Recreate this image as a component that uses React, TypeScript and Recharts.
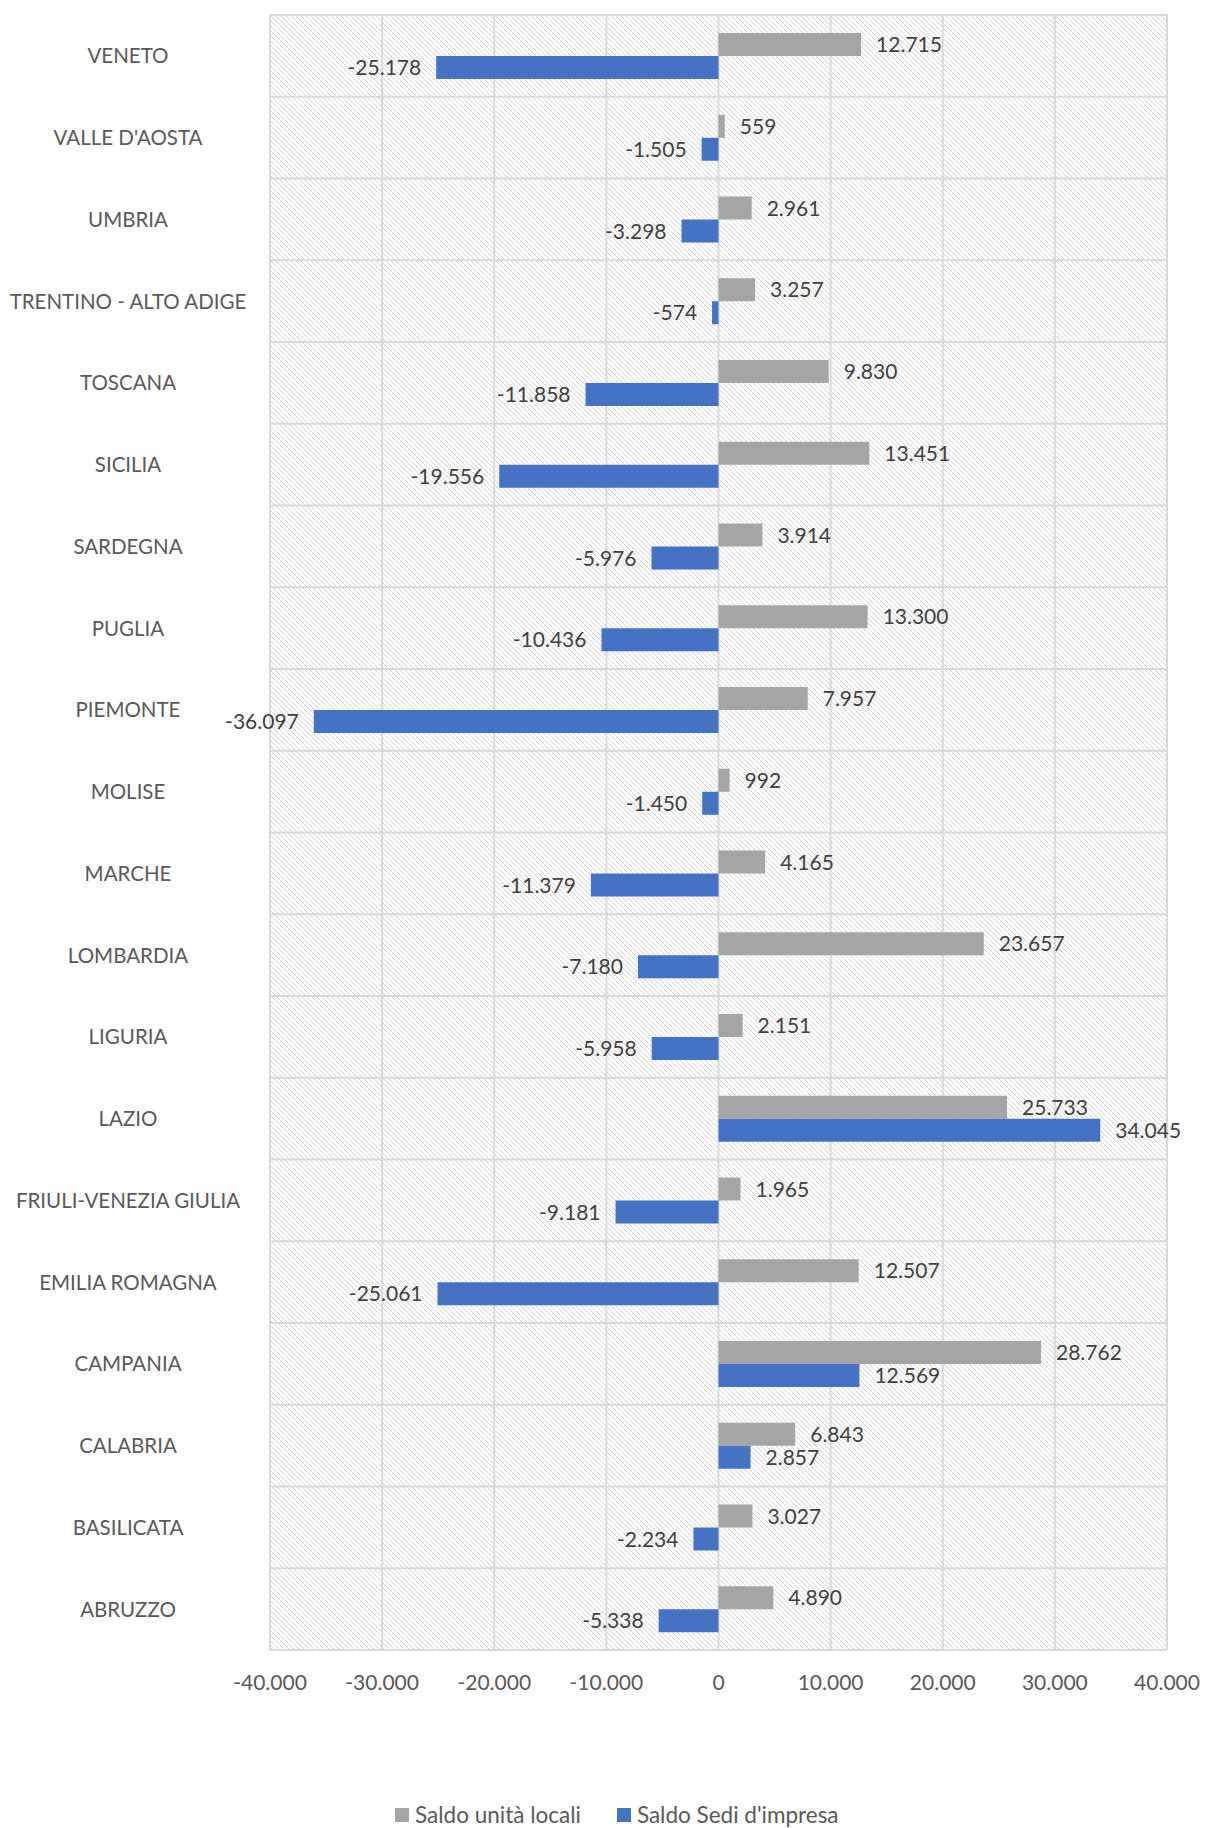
import { BarChart, Bar, XAxis, YAxis, CartesianGrid, Legend, LabelList } from 'recharts'

const regions = [
  'VENETO',
  "VALLE D'AOSTA",
  'UMBRIA',
  'TRENTINO - ALTO ADIGE',
  'TOSCANA',
  'SICILIA',
  'SARDEGNA',
  'PUGLIA',
  'PIEMONTE',
  'MOLISE',
  'MARCHE',
  'LOMBARDIA',
  'LIGURIA',
  'LAZIO',
  'FRIULI-VENEZIA GIULIA',
  'EMILIA ROMAGNA',
  'CAMPANIA',
  'CALABRIA',
  'BASILICATA',
  'ABRUZZO',
]

const unitaLocali = [
  12715, 559, 2961, 3257, 9830, 13451, 3914, 13300, 7957, 992, 4165, 23657, 2151, 25733, 1965, 12507,
  28762, 6843, 3027, 4890,
]

const sediImpresa = [
  -25178, -1505, -3298, -574, -11858, -19556, -5976, -10436, -36097, -1450, -11379, -7180, -5958, 34045,
  -9181, -25061, 12569, 2857, -2234, -5338,
]

const xTicks = [-40000, -30000, -20000, -10000, 0, 10000, 20000, 30000, 40000]

const seriesNames = ['Saldo unità locali', "Saldo Sedi d'impresa"]
const GRAY = '#a5a5a5'
const BLUE = '#4472c4'
const FONT = 'Lato, "Noto Sans", sans-serif'

const data = regions.map((region, i) => ({
  region,
  unita: unitaLocali[i],
  sedi: sediImpresa[i],
}))

// 12715 -> "12.715", -574 -> "-574"
function fmt(v: number) {
  const s = Math.abs(v)
    .toString()
    .replace(/\B(?=(\d{3})+(?!\d))/g, '.')
  return (v < 0 ? '-' : '') + s
}

function CategoryTick({ y, payload }: any) {
  return (
    <text x={128} y={y + 7.5} textAnchor="middle" fill="#595959" fontSize={20.5} fontFamily={FONT}>
      {payload.value}
    </text>
  )
}

function ValueTick({ x, y, payload }: any) {
  return (
    <text x={x} y={y + 40} textAnchor="middle" fill="#595959" fontSize={21} fontFamily={FONT}>
      {fmt(payload.value)}
    </text>
  )
}

function BarLabel({ x, y, width, height, value }: any) {
  const left = Math.min(x, x + width)
  const right = Math.max(x, x + width)
  const neg = value < 0
  return (
    <text
      x={neg ? left - 15 : right + 15}
      y={y + height / 2 + 7.5}
      textAnchor={neg ? 'end' : 'start'}
      fill="#404040"
      fontSize={21}
      fontFamily={FONT}
    >
      {fmt(value)}
    </text>
  )
}

function LegendContent() {
  const items = [
    { name: seriesNames[0], color: GRAY },
    { name: seriesNames[1], color: BLUE },
  ]
  return (
    <div style={{ display: 'flex', alignItems: 'center', fontFamily: FONT, fontSize: 22.5, color: '#595959' }}>
      {items.map((it) => (
        <div key={it.name} style={{ display: 'flex', alignItems: 'center', marginRight: 36 }}>
          <span style={{ width: 14, height: 14, background: it.color, marginRight: 6, display: 'inline-block' }} />
          <span>{it.name}</span>
        </div>
      ))}
    </div>
  )
}

export default function App() {
  const rows = regions.length
  return (
    <div style={{ position: 'absolute', left: 0, top: 0, width: 1205, height: 1828, background: '#fff' }}>
      <svg width={0} height={0} style={{ position: 'absolute' }}>
        <defs>
          <pattern id="hatch" patternUnits="userSpaceOnUse" width={5} height={5}>
            <rect width={5} height={5} fill="#ffffff" />
            <path d="M0,0 L5,5 M-1,4 L1,6 M4,-1 L6,1" stroke="#d6d6d6" strokeWidth={1} />
          </pattern>
        </defs>
      </svg>
      <BarChart
        width={1205}
        height={1828}
        data={data}
        layout="vertical"
        margin={{ top: 15, right: 38, left: 0, bottom: 138 }}
        barSize={23}
        barGap={0}
      >
        <CartesianGrid
          stroke="#d9d9d9"
          strokeWidth={2}
          fill="url(#hatch)"
          fillOpacity={1}
          horizontalCoordinatesGenerator={({ offset }: any) =>
            Array.from({ length: rows + 1 }, (_, i) => offset.top + (i * offset.height) / rows)
          }
        />
        <XAxis
          type="number"
          domain={[-40000, 40000]}
          ticks={xTicks}
          interval={0}
          axisLine={false}
          tickLine={false}
          tickSize={0}
          tickMargin={0}
          height={40}
          tick={<ValueTick />}
        />
        <YAxis
          type="category"
          dataKey="region"
          width={270}
          interval={0}
          axisLine={false}
          tickLine={false}
          tick={<CategoryTick />}
        />
        <Legend
          verticalAlign="middle"
          align="center"
          content={<LegendContent />}
          wrapperStyle={{ position: 'absolute', top: 1801, left: 395, width: 560, height: 30 }}
        />
        <Bar dataKey="unita" name={seriesNames[0]} fill={GRAY} isAnimationActive={false}>
          <LabelList dataKey="unita" content={<BarLabel />} />
        </Bar>
        <Bar dataKey="sedi" name={seriesNames[1]} fill={BLUE} isAnimationActive={false}>
          <LabelList dataKey="sedi" content={<BarLabel />} />
        </Bar>
      </BarChart>
    </div>
  )
}
